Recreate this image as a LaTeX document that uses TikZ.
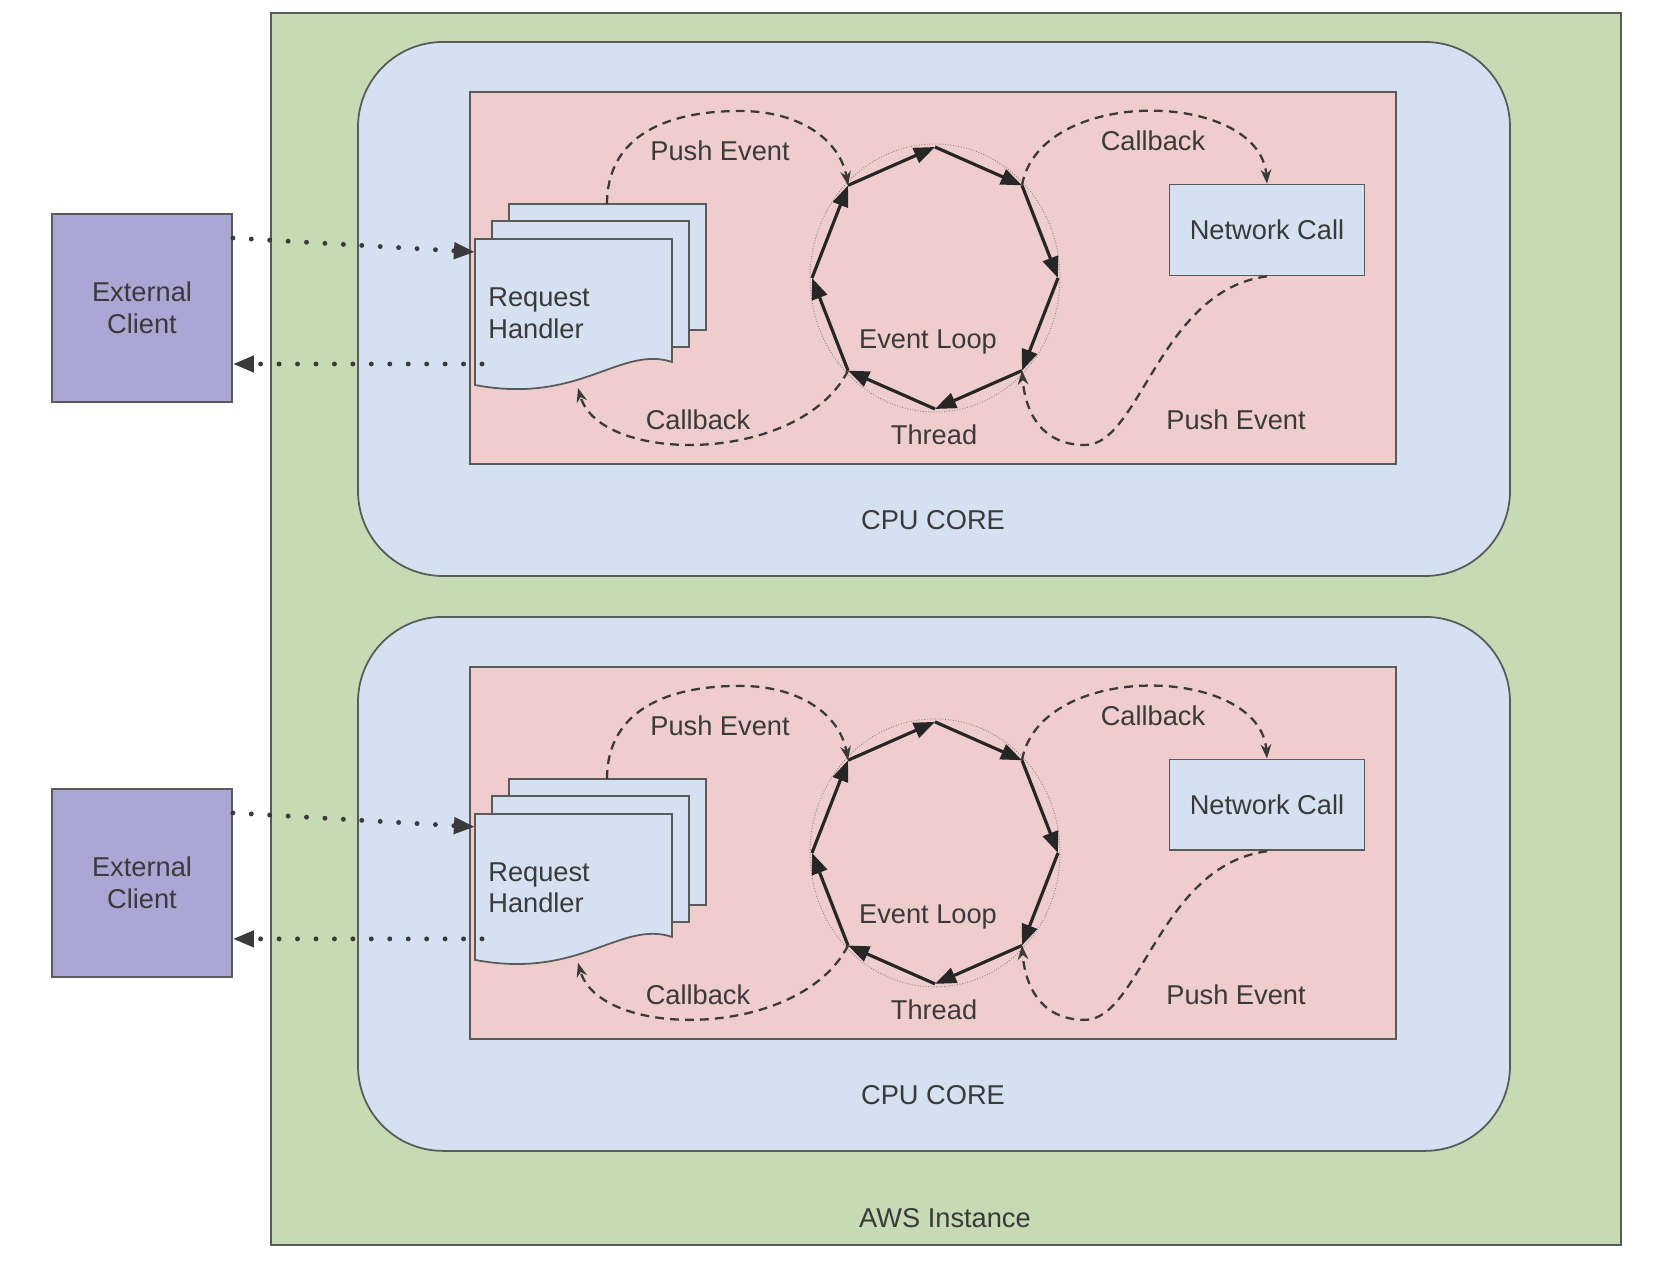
\documentclass[tikz,border=0pt]{standalone}
\usepackage{fontspec}
\setmainfont{Liberation Sans}
\usetikzlibrary{arrows.meta}

\definecolor{awsgreen}{HTML}{C6DAB3}
\definecolor{coreblue}{HTML}{D5E1F0}
\definecolor{looppink}{HTML}{EFCDCD}
\definecolor{clientpurple}{HTML}{ABA6D3}
\definecolor{edgegray}{HTML}{5A5A5A}
\definecolor{txtgray}{HTML}{3A3A3A}

\tikzset{
  awsbox/.style={draw=edgegray, line width=1.2pt, fill=awsgreen},
  corebox/.style={draw=edgegray, line width=1pt, fill=coreblue, rounded corners=1.7cm},
  loopbox/.style={draw=edgegray, line width=1pt, fill=looppink},
  clientbox/.style={draw=edgegray, line width=1pt, fill=clientpurple, minimum width=3.6cm,
    minimum height=3.76cm, inner sep=0pt, align=center},
  callbox/.style={draw=edgegray, line width=1pt, fill=coreblue, minimum width=3.9cm,
    minimum height=1.82cm, inner sep=0pt},
  page/.style={draw=edgegray, line width=1pt, fill=coreblue},
  lbl/.style={inner sep=0pt},
  ghost/.style={draw=gray, line width=0.5pt, densely dotted},
  loopedge/.style={->, draw=black!85, line width=1.8pt},
  flow/.style={-{Stealth[length=8pt,width=6pt]}, draw=txtgray, line width=1.3pt,
    dash pattern=on 5pt off 3.5pt},
  wire/.style={->, draw=txtgray, line width=2.8pt, line cap=round,
    dash pattern=on 0pt off 10.5pt}
}

\begin{document}
\begin{tikzpicture}[x=0.02cm, y=-0.02cm, >={Triangle[length=12pt,width=9pt]},
  font=\fontsize{15.5}{18}\selectfont, text=txtgray]

\useasboundingbox (0,0) rectangle (1660,1266);

% Instance
\draw[awsbox] (271,13) rectangle (1621,1245);
\node[lbl] (aws) at (945,1218) {AWS Instance};

% Two cores
\foreach \i/\dy in {1/0,2/-11.5} {
\begin{scope}[yshift=\dy cm]

% Core and loop area
\draw[corebox] (358,42) rectangle (1510,576);
\draw[loopbox] (470,92) rectangle (1396,464);
\node[lbl] (core\i) at (933,520) {CPU CORE};

% Client
\node[clientbox] (client\i) at (142,308) {External\\Client};

% Request handler pages
\draw[page] (509,204) rectangle (706,330);
\draw[page] (492,221) rectangle (689,347);
\draw[page] (475,239) -- (672,239) -- (672,362) .. controls (620,345) and (580,405) .. (475,385) -- cycle;
\node[lbl, anchor=west, align=left] (hand\i) at (488,313) {Request\\Handler};
\coordinate (htop\i) at (607,204);
\coordinate (hbot\i) at (578,388);
\coordinate (hin\i) at (475,252);
\coordinate (hout\i) at (482,364);

% Network call
\node[callbox] (net\i) at (1267,230) {Network Call};

% Event loop
\draw[ghost] (935,278) ellipse [x radius=2.5cm, y radius=2.68cm];
\foreach \k in {0,...,7}
  \coordinate (v\i-\k) at ({935+123*cos(90-45*\k)},{278-131*sin(90-45*\k)});
\foreach \k [evaluate=\k as \n using {int(mod(\k+1,8))}] in {0,...,7}
  \draw[loopedge] (v\i-\k) -- (v\i-\n);
\node[lbl] (loop\i) at (928,342) {Event Loop};
\node[lbl] (thread\i) at (934,435) {Thread};

% Client wires
\draw[wire] (client\i.east |- 0,238) -- (hin\i);
\draw[wire] (hout\i) -- (client\i.east |- hout\i);

% Events and callbacks
\draw[flow] (htop\i) .. controls (607,140) and (660,111) .. (740,111)
  .. controls (800,111) and (840,140) .. (v\i-7);
\node[lbl] (push\i) at (720,151) {Push Event};
\draw[flow] (v\i-5) .. controls (800,465) and (600,465) .. (hbot\i);
\node[lbl] (back\i) at (698,420) {Callback};
\draw[flow] (v\i-1) .. controls (1040,85) and (1260,90) .. (net\i.north);
\node[lbl] (netback\i) at (1153,141) {Callback};
\draw[flow] (net\i.south) .. controls (1160,290) and (1140,445) .. (1085,445)
  .. controls (1040,445) and (1025,410) .. (v\i-3);
\node[lbl] (netpush\i) at (1236,420) {Push Event};

\end{scope}
}

\end{tikzpicture}
\end{document}
